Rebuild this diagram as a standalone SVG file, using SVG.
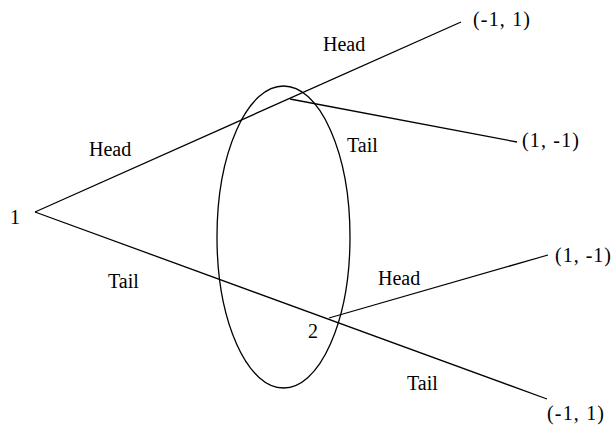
<svg xmlns="http://www.w3.org/2000/svg" width="613" height="425" viewBox="0 0 613 425">
<style>
.l{stroke:#000;stroke-width:1.3;fill:none}
text{font-family:"Liberation Serif","Times New Roman",serif;font-size:20px;fill:#000}
</style>
<rect width="613" height="425" fill="#fff"/>
<g id="connectors">
<line class="l" x1="35" y1="212" x2="461" y2="22"/>
<line class="l" x1="290" y1="99" x2="517" y2="142"/>
<line class="l" x1="35" y1="212" x2="547" y2="399"/>
<line class="l" x1="329" y1="318" x2="548" y2="255"/>
<text x="323" y="51">Head</text>
<text x="89" y="156">Head</text>
<text x="347" y="152">Tail</text>
<text x="108" y="288">Tail</text>
<text x="378" y="285">Head</text>
<text x="407" y="390">Tail</text>
</g>
<g id="infoset"><ellipse class="l" cx="283.5" cy="237" rx="66.5" ry="151"/></g>
<g id="n1"><text x="10" y="224">1</text></g>
<g id="n2"><text x="308" y="338">2</text></g>
<g id="t1"><text x="473" y="26" textLength="57">(-1, 1)</text></g>
<g id="t2"><text x="522" y="147" textLength="57">(1, -1)</text></g>
<g id="t3"><text x="555" y="262" textLength="56">(1, -1)</text></g>
<g id="t4"><text x="547" y="420" textLength="57">(-1, 1)</text></g>
</svg>
